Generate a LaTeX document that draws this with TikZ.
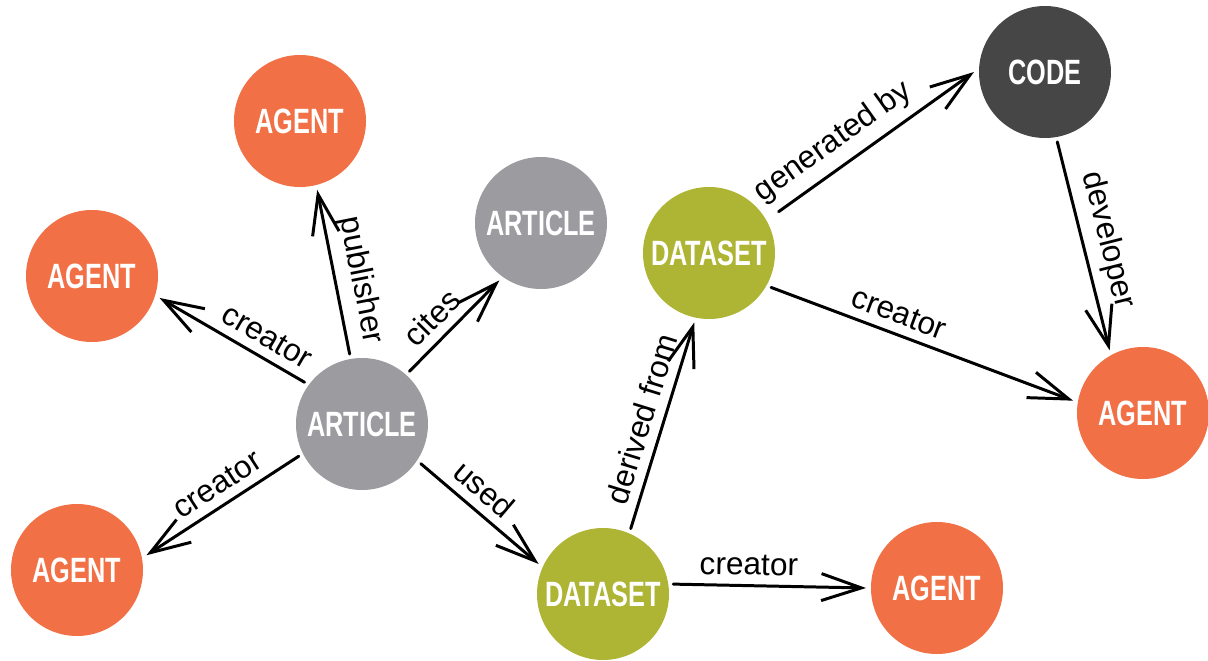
\documentclass[tikz,border=0pt]{standalone}
\usepackage{fontspec}
\setmainfont{Liberation Sans}
\newfontfamily\entfont[FakeStretch=0.72]{Liberation Sans}
\usetikzlibrary{arrows.meta}

\definecolor{agentc}{RGB}{241,112,70}
\definecolor{articlec}{RGB}{155,155,160}
\definecolor{datasetc}{RGB}{174,181,52}
\definecolor{codec}{RGB}{70,70,70}

\tikzset{
	ent/.style={circle, minimum size=1.32cm, inner sep=0pt, outer sep=0.05cm,
		text=white, font=\entfont\bfseries\fontsize{10}{11}\selectfont},
	agent/.style={ent, fill=agentc},
	article/.style={ent, fill=articlec},
	dataset/.style={ent, fill=datasetc},
	codenode/.style={ent, fill=codec},
	rel/.style={->, line width=0.85pt, line cap=round},
	lbl/.style={pos=0.42, above, sloped, inner sep=2.5pt, font=\fontsize{9}{10}\selectfont}
}

\begin{document}
\begin{tikzpicture}[>={Straight Barb[length=0.4cm, width=0.27cm]}]
	\useasboundingbox (0,0) rectangle (12.08,6.6);
	% nodes
	\node[agent] (agTop) at (3.00,5.39) {AGENT};
	\node[agent] (agLeft) at (0.92,3.84) {AGENT};
	\node[article] (artTop) at (5.41,4.37) {ARTICLE};
	\node[article] (art) at (3.62,2.36) {ARTICLE};
	\node[agent] (agBL) at (0.77,0.90) {AGENT};
	\node[dataset] (dsTop) at (7.09,4.07) {DATASET};
	\node[dataset] (ds) at (6.03,0.66) {DATASET};
	\node[agent] (agBot) at (9.37,0.72) {AGENT};
	\node[codenode] (code) at (10.45,5.88) {CODE};
	\node[agent] (agRight) at (11.43,2.47) {AGENT};
	% relations
	\draw[rel] (art.100) -- (agTop.-76) node[lbl] {publisher};
	\draw[rel] (art.48) -- (artTop.234) node[lbl] {cites};
	\draw[rel] (art.144) -- (agLeft.-18) node[lbl,pos=0.33] {creator};
	\draw[rel] (art.207) -- (agBL.12) node[lbl,pos=0.46] {creator};
	\draw[rel] (art.-34) -- (ds.155) node[lbl] {used};
	\draw[rel] (ds.67) -- (dsTop.258) node[lbl,pos=0.5] {derived from};
	\draw[rel] (ds.8) -- (agBot.180) node[lbl,pos=0.39] {creator};
	\draw[rel,shorten <=0.1cm] (dsTop.30) -- (code.180) node[lbl,pos=0.38] {generated by};
	\draw[rel] (dsTop.-29) -- (agRight.170) node[lbl,pos=0.4] {creator};
	\draw[rel] (code.-80) -- (agRight.118) node[lbl,pos=0.5] {developer};
\end{tikzpicture}
\end{document}
